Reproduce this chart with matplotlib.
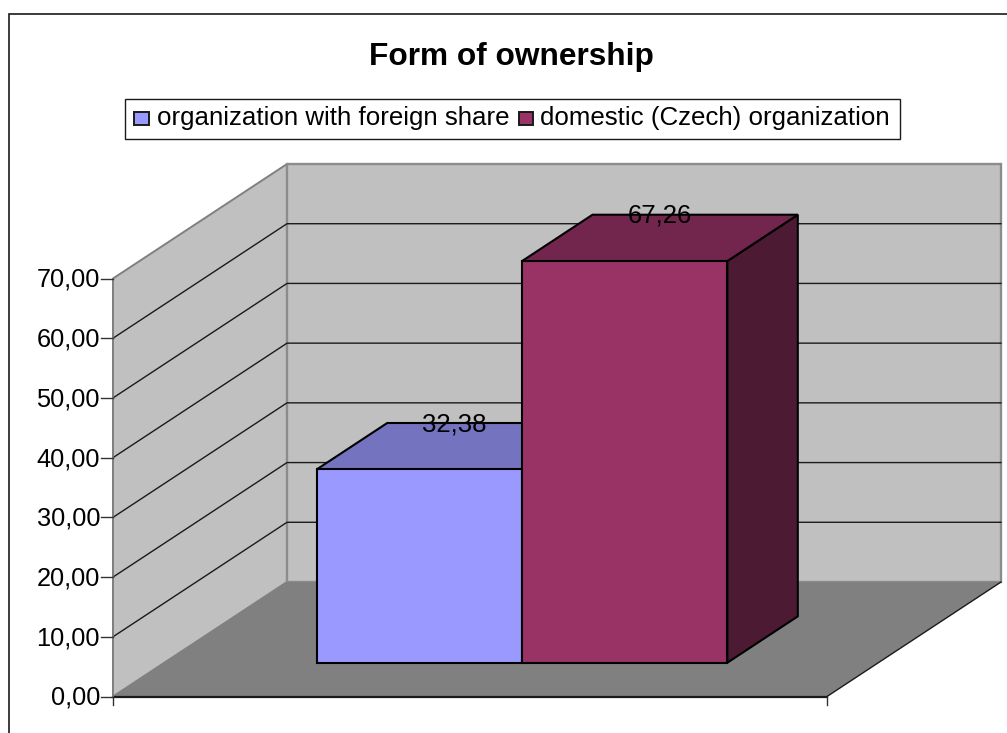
import matplotlib
matplotlib.use("Agg")
import matplotlib.pyplot as plt
from matplotlib.patches import Polygon, Rectangle

# ---- data ----
title = "Form of ownership"
series_names = ["organization with foreign share", "domestic (Czech) organization"]
values = [32.38, 67.26]
value_labels = ["32,38", "67,26"]
y_ticks = [0, 10, 20, 30, 40, 50, 60, 70]
y_tick_labels = ["0,00", "10,00", "20,00", "30,00", "40,00", "50,00", "60,00", "70,00"]
face_colors = ["#9999FF", "#993366"]
top_colors = ["#7373BF", "#73264D"]
side_colors = ["#4D4D80", "#4D1A33"]

W, H = 1007, 733
plt.rcParams["font.family"] = ["Liberation Sans", "DejaVu Sans"]
fig = plt.figure(figsize=(W / 100, H / 100), dpi=100, facecolor="white")
PT = 0.72  # points per pixel

# figure-wide overlay in pixels for frame, title
ov = fig.add_axes([0, 0, 1, 1], zorder=0)
ov.set_xlim(0, W); ov.set_ylim(H, 0); ov.axis("off")
ov.add_patch(Rectangle((8.5, 13.5), 1010, 740, fc="white", ec="#1A1A1A", lw=1.2, clip_on=False))

# chart axes: x in category units (0..2), y in value units
PX_LEFT, PX_RIGHT, PX_Y0, PX_Y70 = 113.0, 827.0, 696.5, 278.5
ax = fig.add_axes([PX_LEFT / W, 1 - PX_Y0 / H, (PX_RIGHT - PX_LEFT) / W, (PX_Y0 - PX_Y70) / H], zorder=1)
ax.set_xlim(0, 2); ax.set_ylim(0, 70)
ax.patch.set_alpha(0); ax.axis("off")
ux = (PX_RIGHT - PX_LEFT) / 2
uy = (PX_Y0 - PX_Y70) / 70
DX, DY = 174 / ux, 114.5 / uy   # oblique shift for full depth


def P(x, y, d=0.0):
    return (x + d * DX, y + d * DY)


def poly(pts, fc, ec="none", lw=0, z=1):
    ax.add_patch(Polygon(pts, closed=True, fc=fc, ec=ec, lw=lw, zorder=z, clip_on=False, joinstyle="miter"))


YT = y_ticks[-1]
# walls and floor
poly([P(0, 0), P(0, YT), P(0, YT, 1), P(0, 0, 1)], "#C0C0C0", ec="#808080", lw=1.4, z=1)
poly([P(0, 0, 1), P(0, YT, 1), P(2, YT, 1), P(2, 0, 1)], "#C0C0C0", ec="#8C8C8C", lw=1.7, z=1)
poly([P(0, 0), P(2, 0), P(2, 0, 1), P(0, 0, 1)], "#808080", z=1.5)

# gridlines on side wall and back wall
for t in y_ticks[1:-1]:
    a, b, c = P(0, t), P(0, t, 1), P(2, t, 1)
    ax.plot([a[0], b[0], c[0]], [a[1], b[1], c[1]], color="#1A1A1A", lw=1.0, zorder=2, clip_on=False)

# floor edges and axes
ax.plot([0, 2], [0, 0], color="#1A1A1A", lw=1.6, zorder=3, clip_on=False)
p, q = P(2, 0), P(2, 0, 1)
ax.plot([p[0], q[0]], [p[1], q[1]], color="#1A1A1A", lw=1.0, zorder=3, clip_on=False)
ax.plot([0, 0], [0, YT], color="#808080", lw=1.2, zorder=3, clip_on=False)
tk = 12 / ux
for t, lab in zip(y_ticks, y_tick_labels):
    ax.plot([-tk, 0], [t, t], color="#333333", lw=1.0, zorder=3, clip_on=False)
    ax.annotate(lab, (0, t), xytext=(-13 * PT, 1 * PT), textcoords="offset points", ha="right", va="center_baseline",
                fontsize=18.3, color="black", annotation_clip=False, zorder=5)
for cx in [0, 2]:
    ax.plot([cx, cx], [0, -8 / uy], color="#333333", lw=1.0, zorder=3, clip_on=False)

# bars
D0, D1 = 0.295, 0.70
BAR_W = 0.575
CENTER = 1.002
for i, v in enumerate(values):
    x0, x1 = CENTER - BAR_W + i * BAR_W, CENTER + i * BAR_W
    z = 6 + i
    poly([P(x1, 0, D0), P(x1, 0, D1), P(x1, v, D1), P(x1, v, D0)], side_colors[i], "black", 1.5, z)
    poly([P(x0, v, D0), P(x1, v, D0), P(x1, v, D1), P(x0, v, D1)], top_colors[i], "black", 1.5, z)
    poly([P(x0, 0, D0), P(x1, 0, D0), P(x1, v, D0), P(x0, v, D0)], face_colors[i], "black", 1.5, z)
    lab_xy = P((x0 + x1) / 2, v, (D0 + D1) / 2)
    ax.annotate(value_labels[i], lab_xy, xytext=(0, 24.5 * PT), textcoords="offset points",
                ha="center", va="center_baseline", fontsize=18.5, color="black", zorder=20, annotation_clip=False)

# title
ov.text(511, 56.5, title, ha="center", va="center", fontsize=22.8, fontweight="bold", color="black")

# legend box, above chart
lg = fig.add_axes([0, 0, 1, 1], zorder=30)
lg.set_xlim(0, W); lg.set_ylim(H, 0); lg.axis("off"); lg.patch.set_alpha(0)
lg.add_patch(Rectangle((124.5, 98.5), 775.5, 40, fc="white", ec="#1A1A1A", lw=1.0))
for sx, tx, name, col in zip([134, 518.5], [157, 540], series_names, face_colors):
    lg.add_patch(Rectangle((sx, 112), 14.5, 13, fc=col, ec="#1A1A1A", lw=1.4))
    lg.text(tx, 118, name, ha="left", va="center", fontsize=18.6, color="black")

fig.savefig("out.png", dpi=100, facecolor="white")
